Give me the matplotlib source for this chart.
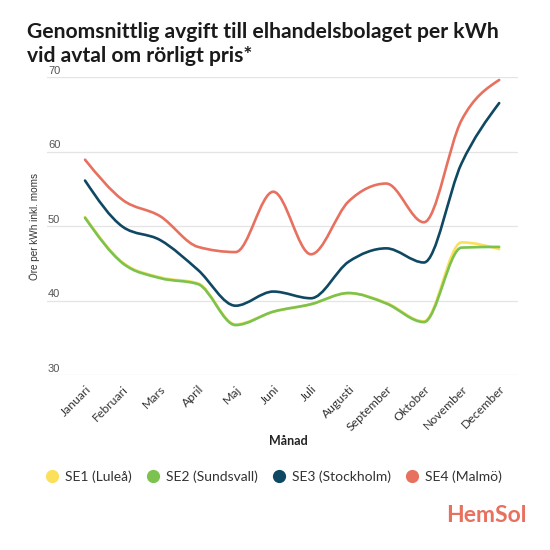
import matplotlib
matplotlib.use("Agg")
import matplotlib.pyplot as plt
import numpy as np
from matplotlib.lines import Line2D
from matplotlib.patches import PathPatch
from matplotlib.path import Path
from matplotlib.transforms import ScaledTranslation


MONTHS = ["Januari", "Februari", "Mars", "April", "Maj", "Juni", "Juli",
          "Augusti", "September", "Oktober", "November", "December"]

SE1 = [51.2, 45.1, 43.1, 42.3, 36.8, 38.5, 39.5, 41.0, 39.7, 37.2, 47.8, 46.9]
SE2 = [51.1, 45.0, 43.0, 42.2, 36.7, 38.5, 39.5, 41.0, 39.6, 37.1, 47.1, 47.2]
SE3 = [56.1, 49.9, 48.1, 44.1, 39.3, 41.2, 40.3, 45.2, 47.0, 45.1, 58.4, 66.5]
SE4 = [58.9, 53.5, 51.3, 47.2, 46.5, 54.6, 46.2, 53.3, 55.7, 50.5, 64.2, 69.6]

SERIES = ["SE1 (Luleå)", "SE2 (Sundsvall)", "SE3 (Stockholm)", "SE4 (Malmö)"]
COLORS = ["#FCE05A", "#7CC24E", "#0F4862", "#E8705F"]
YTICKS = [30, 40, 50, 60, 70]

TITLE = "Genomsnittlig avgift till elhandelsbolaget per kWh\nvid avtal om rörligt pris*"
FONT = "Lato"


def monotone_tangents(x, y):
    # same idea as d3.curveMonotoneX
    n = len(x)
    h = np.diff(x)
    s = np.diff(y) / h
    t = np.zeros(n)
    for i in range(1, n - 1):
        p = (s[i - 1] * h[i] + s[i] * h[i - 1]) / (h[i - 1] + h[i])
        t[i] = (np.sign(s[i - 1]) + np.sign(s[i])) * min(
            abs(s[i - 1]), abs(s[i]), 0.5 * abs(p))
    t[0] = (3 * s[0] - t[1]) / 2
    t[-1] = (3 * s[-1] - t[-2]) / 2
    return t


def smooth_path(x, y):
    x = np.asarray(x, dtype=float)
    y = np.asarray(y, dtype=float)
    t = monotone_tangents(x, y)
    verts = [(x[0], y[0])]
    codes = [Path.MOVETO]
    for i in range(len(x) - 1):
        dx = (x[i + 1] - x[i]) / 3
        verts += [(x[i] + dx, y[i] + t[i] * dx),
                  (x[i + 1] - dx, y[i + 1] - t[i + 1] * dx),
                  (x[i + 1], y[i + 1])]
        codes += [Path.CURVE4] * 3
    return Path(verts, codes)


def main() -> None:
    fig = plt.figure(figsize=(5.5, 5.5), dpi=100)
    ax = fig.add_axes([47 / 550, 1 - 375 / 550, 471 / 550, 298 / 550])

    x = np.arange(len(MONTHS))
    for values, color in zip([SE1, SE2, SE3, SE4], COLORS):
        patch = PathPatch(smooth_path(x, values), fill=False, edgecolor=color,
                          lw=1.9, capstyle="round", joinstyle="round")
        ax.add_patch(patch)

    ax.set_xlim(-1.01, 11.5)
    ax.set_ylim(30, 70)
    ax.set_yticks(YTICKS)
    ax.yaxis.grid(True, color="#e4e4e4", lw=0.9)
    ax.set_axisbelow(True)
    for spine in ax.spines.values():
        spine.set_visible(False)
    ax.tick_params(axis="both", length=0)
    ax.set_yticklabels([])
    # y values sit just above their gridline, at the left edge
    for v in YTICKS:
        ax.text(0.002, v + 0.15, str(v), transform=ax.get_yaxis_transform(),
                ha="left", va="bottom", fontsize=8, color="#555555",
                family="Liberation Sans")

    ax.set_xticks(x)
    ax.set_xticklabels(MONTHS, rotation=45, ha="right", va="top",
                       rotation_mode="anchor", fontsize=8.8,
                       family=FONT, color="#333333")
    shift = ScaledTranslation(3 / 100, 0, fig.dpi_scale_trans)
    for lab in ax.get_xticklabels():
        lab.set_transform(lab.get_transform() + shift)
    ax.tick_params(axis="x", pad=6)

    fig.text(35 / 550, 1 - 226 / 550, "Öre per kWh inkl. moms", rotation=90,
             ha="center", va="center", fontsize=7.2, color="#333333",
             family="Liberation Sans")
    fig.text(288 / 550, 1 - 441 / 550, "Månad", ha="center", va="center",
             fontsize=9, fontweight="bold", family=FONT, color="#222222")

    fig.text(27 / 550, 1 - 22 / 550, TITLE, ha="left", va="top",
             fontsize=15.2, fontweight="bold", family=FONT, color="#1a1a1a",
             linespacing=1.22)

    handles = [Line2D([], [], ls="none", marker="o", ms=9.5, color=c,
                      markeredgewidth=0) for c in COLORS]
    fig.legend(handles, SERIES, loc="center", ncol=4,
               bbox_to_anchor=(273 / 550, 1 - 477 / 550), frameon=False,
               prop={"family": FONT, "size": 10}, handletextpad=0.35,
               columnspacing=0.9, handlelength=1.2, labelcolor="#333333")

    fig.text(527 / 550, 1 - 515 / 550, "HemSol", ha="right", va="center",
             fontsize=16.5, fontweight="bold", family=FONT, color="#E8705F")

    fig.savefig("out.png", dpi=100)
    plt.close(fig)


if __name__ == "__main__":
    main()
